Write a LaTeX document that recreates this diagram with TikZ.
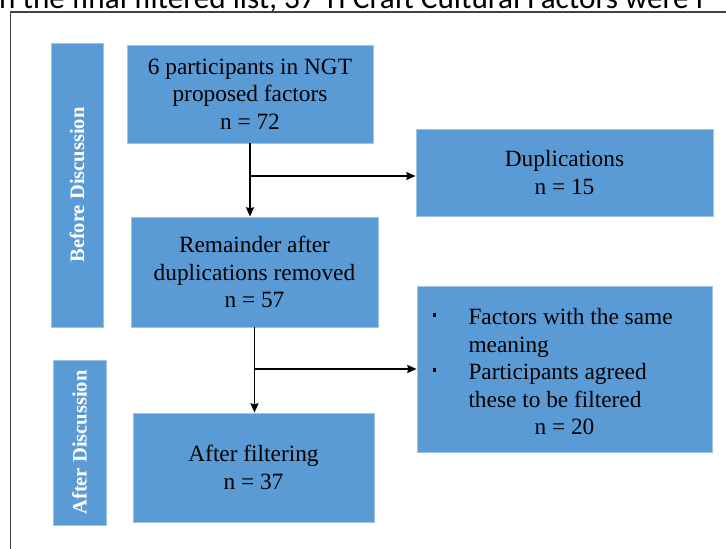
\documentclass[tikz,border=0pt]{standalone}
\usepackage{fontspec}
\setmainfont{Liberation Serif}
\newfontfamily\capfont{Carlito}
\usetikzlibrary{arrows.meta,positioning,calc}
\definecolor{boxblue}{RGB}{91,155,213}
\definecolor{boxedge}{RGB}{157,195,230}
\definecolor{framegray}{RGB}{64,64,64}
\newcommand{\sqbullet}{\rule[0.33em]{2.8pt}{2.8pt}}
\tikzset{
    flowbox/.style={
        rectangle,                 % plain box, no rounding
        draw=boxedge,              % light blue outline
        fill=boxblue,              % office blue fill
        line width=0.6pt,
        inner sep=0pt,             % size comes from boxsize
        align=center,              % lines centred in the box
        font=\fontsize{17.5}{20.6}\selectfont
    },
    phasebox/.style={
        flowbox,
        rotate=90,                 % reads from bottom to top
        text=white,
        font=\fontsize{15.4}{18}\selectfont\bfseries
    },
    boxsize/.style 2 args={
        minimum width=#1*0.75pt,   % sizes are given in px
        minimum height=#2*0.75pt
    }
}

\begin{document}
\begin{tikzpicture}[
        x=0.75pt, y=-0.75pt,
        arrow/.style={->,>={Stealth[length=7pt,width=6pt,inset=0.8pt]},line width=1.1pt}
    ]
    \useasboundingbox (0,0) rectangle (726,549);
    \clip (0,0) rectangle (726,549);

    % text line cut off above the figure
    \node[anchor=base west, inner sep=0pt, font=\capfont\fontsize{23.4}{28}\selectfont] (caption) at (-9,9)
        {In the final filtered list, 37 TI Craft Cultural Factors were i};
    \draw[framegray, line width=0.9pt] (10.5,560) |- (740,12);

    % phases
    \node[phasebox, boxsize={284}{52}] (before) at (77,185) {Before Discussion};
    \node[phasebox, boxsize={165}{53}] (after) at (79.5,442.5) {After Discussion};

    % flow
    \node[flowbox, boxsize={246}{98}] (start) at (250,94) {6 participants in NGT\\proposed factors\\n = 72};
    \node[flowbox, boxsize={297}{87}] (dup) at (564.5,172.5) {Duplications\\n = 15};
    \node[flowbox, boxsize={247}{110}] (remain) at (254.5,272) {Remainder after\\duplications removed\\n = 57};
    \node[flowbox, boxsize={295}{166}] (same) at (564.5,369) {\raisebox{-4pt}[\height][\depth]{%
        \begin{tabular}{@{}p{27pt}@{}p{171pt}@{}}
            \sqbullet & Factors with the same\\
                      & meaning\\
            \sqbullet & Participants agreed\\
                      & these to be filtered\\
            \multicolumn{2}{c}{n = 20}
        \end{tabular}}};
    \node[flowbox, boxsize={241}{109}] (final) at (253.5,467.5) {After filtering\\n = 37};

    \coordinate (fork1) at (start.south |- 0,176);
    \coordinate (fork2) at (remain.south |- same.west);

    \draw[arrow] (start.south) -- (start.south |- remain.north);
    \draw[arrow] (fork1) -- (fork1 -| dup.west);
    \draw[arrow] (remain.south) -- (remain.south |- final.north);
    \draw[arrow] (fork2) -- (same.west);
\end{tikzpicture}
\end{document}
